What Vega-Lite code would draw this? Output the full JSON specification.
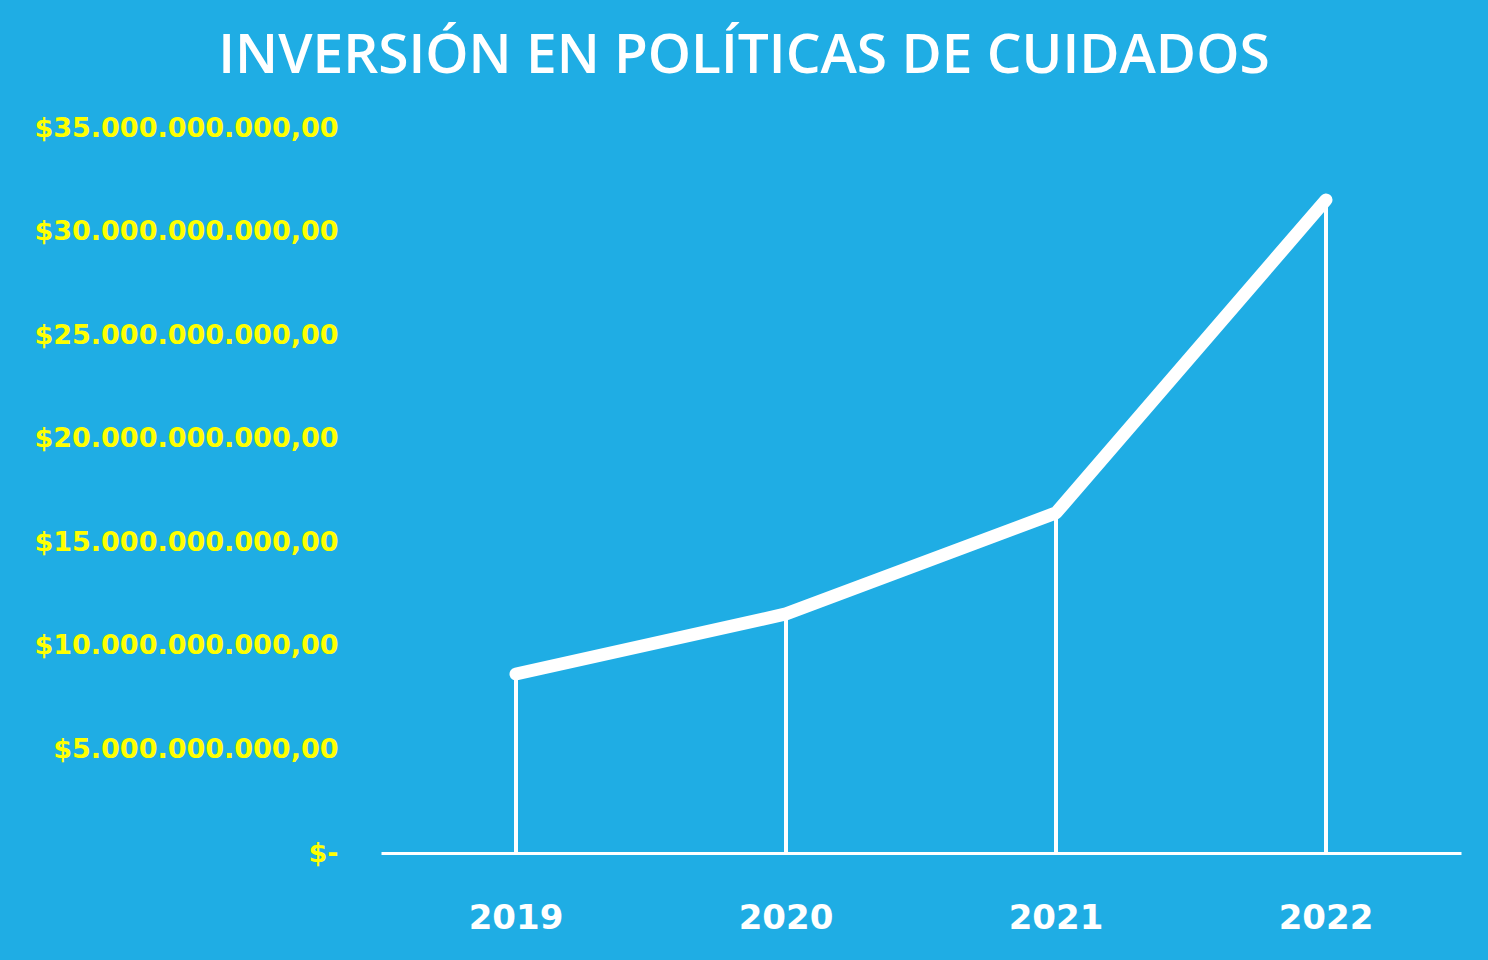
{
  "$schema": "https://vega.github.io/schema/vega-lite/v6.json",
  "width": 1080,
  "height": 725,
  "autosize": {"type": "none"},
  "padding": {"left": 381, "top": 128, "right": 27, "bottom": 107},
  "background": "#1FADE4",
  "title": {
    "text": "INVERSIÓN EN POLÍTICAS DE CUIDADOS",
    "color": "#FFFFFF",
    "font": "Open Sans",
    "fontWeight": 600,
    "fontSize": 55,
    "anchor": "middle",
    "dx": -177,
    "offset": 29
  },
  "data": {
    "values": [
      {"year": "2019", "value": 8640000000},
      {"year": "2020", "value": 11540000000},
      {"year": "2021", "value": 16420000000},
      {"year": "2022", "value": 31530000000}
    ]
  },
  "encoding": {
    "x": {
      "field": "year",
      "type": "ordinal",
      "scale": {"paddingInner": 0, "paddingOuter": 0},
      "axis": {
        "title": null,
        "labelAngle": 0,
        "labelColor": "#FFFFFF",
        "labelFont": "DejaVu Sans",
        "labelFontWeight": "bold",
        "labelFontSize": 34,
        "labelBaseline": "middle",
        "labelPadding": 65,
        "ticks": false,
        "domainColor": "#FFFFFF",
        "domainWidth": 3,
        "grid": false
      }
    }
  },
  "layer": [
    {
      "mark": {"type": "rule", "color": "#FFFFFF", "strokeWidth": 4},
      "encoding": {
        "y": {
          "field": "value",
          "type": "quantitative",
          "scale": {"domain": [0, 35000000000], "nice": false},
          "axis": {
            "title": null,
            "values": [0, 5000000000, 10000000000, 15000000000, 20000000000, 25000000000, 30000000000, 35000000000],
            "labelExpr": "datum.value === 0 ? '$-' : '$' + replace(replace(replace(format(datum.value, ',.2f'), regexp(',', 'g'), '#'), regexp('\\\\.', 'g'), ','), regexp('#', 'g'), '.')",
            "labelColor": "#FFFF00",
            "labelFont": "DejaVu Sans",
            "labelFontWeight": "bold",
            "labelFontSize": 27,
            "labelPadding": 43,
            "labelLimit": 0,
            "labelBaseline": "middle",
            "ticks": false,
            "domain": false,
            "grid": false
          }
        },
        "y2": {"datum": 0}
      }
    },
    {
      "mark": {"type": "line", "color": "#FFFFFF", "strokeWidth": 13, "strokeCap": "round", "strokeJoin": "round"},
      "encoding": {
        "y": {"field": "value", "type": "quantitative"}
      }
    }
  ],
  "config": {
    "view": {"stroke": null}
  }
}
